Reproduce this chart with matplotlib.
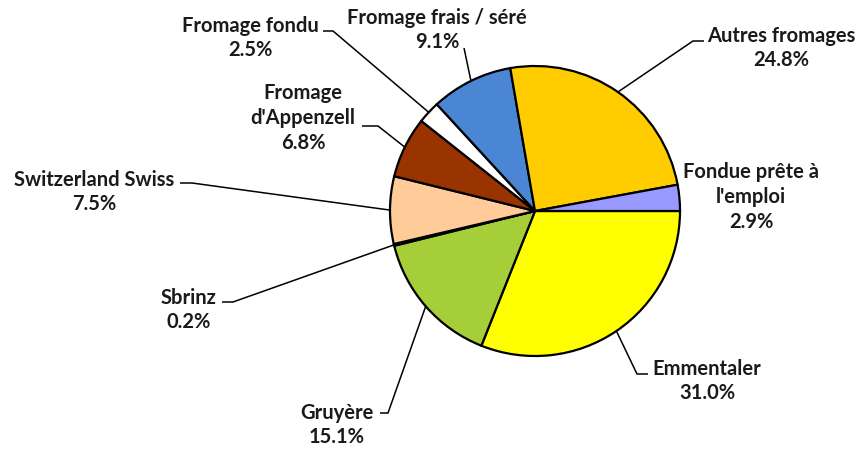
import numpy as np
import matplotlib.pyplot as plt

# share of cheese categories (%), clockwise from 3 o'clock
categories = ['Emmentaler', 'Gruyère', 'Sbrinz', 'Switzerland Swiss',
              "Fromage\nd'Appenzell", 'Fromage fondu', 'Fromage frais / séré',
              'Autres fromages', "Fondue prête à\nl'emploi"]
shares = [31.0, 15.1, 0.2, 7.5, 6.8, 2.5, 9.1, 24.8, 2.9]
colors = ['#FFFF00', '#A6CE39', '#333333', '#FFCC99', '#993300',
          '#FFFFFF', '#4A86D3', '#FFCC00', '#9999FF']

# label layout in pixel coords (y down): text centre, leader elbow, leader end
label_xy = [(707, 381), (337, 425), (189, 310), (94, 192), (303, 118),
            (250, 38), (437, 30), (781, 48), (751, 197)]
elbows = [(637, 374), (388, 413), (233, 302), (192, 183), (378, 126),
          (333, 31), None, (693, 41), None]
ends = [(648, 374), (380, 413), (222, 302), (180, 183), (362, 126),
        (323, 31), (464, 48), (704, 41), None]

W, H = 857, 451
cx, cy, r = 535, 211, 145

fig = plt.figure(figsize=(W / 100, H / 100), dpi=100)
ax = fig.add_axes([0, 0, 1, 1])

# y axis is inverted, so counterclock=True draws clockwise on screen
wedges, _ = ax.pie(shares, colors=colors, startangle=0, counterclock=True,
                   center=(cx, cy), radius=r, frame=True,
                   wedgeprops=dict(edgecolor='black', linewidth=1.6))
ax.set_xlim(0, W)
ax.set_ylim(H, 0)
ax.set_aspect('equal')
ax.axis('off')

for w, name, val, (tx, ty), el, en in zip(wedges, categories, shares,
                                          label_xy, elbows, ends):
    mid = np.deg2rad((w.theta1 + w.theta2) / 2)
    px, py = cx + r * np.cos(mid), cy + r * np.sin(mid)
    if en is not None:
        pts = [(px, py)] + ([el] if el else []) + [en]
        xs, ys = zip(*pts)
        ax.plot(xs, ys, color='black', lw=1.1, solid_capstyle='butt')
    ax.text(tx, ty, f'{name}\n{val:.1f}%', ha='center', va='center',
            multialignment='center', fontsize=14.5, fontweight='bold',
            family='Lato', color='#1a1a1a', linespacing=1.3)

fig.savefig('out.png', dpi=100)
